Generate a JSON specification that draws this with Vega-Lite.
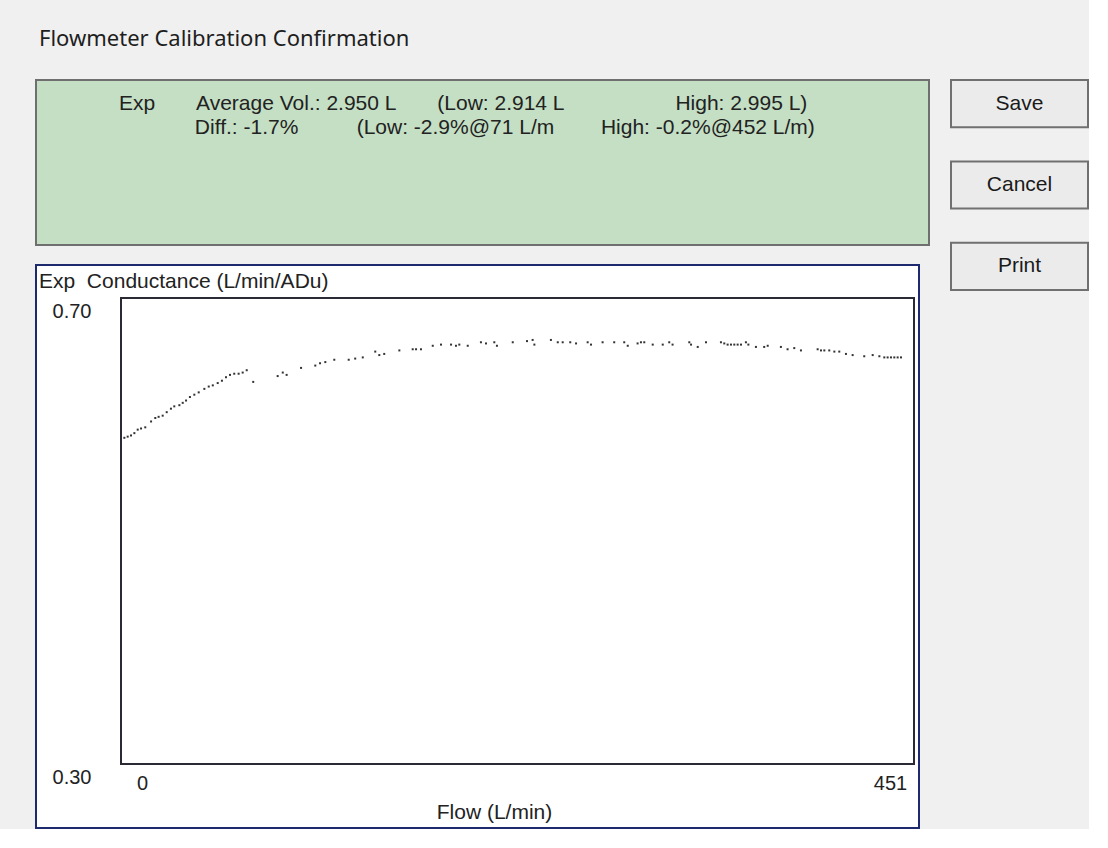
{
  "$schema": "https://vega.github.io/schema/vega-lite/v6.json",
  "background": "#f0f0f0",
  "padding": {"left": 35, "top": 28, "right": 0, "bottom": 0},
  "bounds": "full",
  "spacing": 20,
  "config": {"font": "Liberation Sans", "view": {"stroke": null}},
  "title": {"text": "Flowmeter Calibration Confirmation", "anchor": "start", "frame": "group", "dx": 3, "offset": 11, "fontSize": 22, "font": "Noto Sans", "fontWeight": "normal", "color": "#1e1e1e", "baseline": "alphabetic"},
  "hconcat": [
    {
      "bounds": "flush",
      "spacing": 20,
      "vconcat": [
        {
          "width": 893,
          "height": 165,
          "view": {"fill": "#c4dfc4", "stroke": "#6f6f6f", "strokeWidth": 2},
          "title": {
            "text": [
              "Exp\u00a0\u00a0\u00a0\u00a0\u00a0\u00a0\u00a0Average Vol.: 2.950 L\u00a0\u00a0\u00a0\u00a0\u00a0\u00a0\u00a0(Low: 2.914 L\u00a0\u00a0\u00a0\u00a0\u00a0\u00a0\u00a0\u00a0\u00a0\u00a0\u00a0\u00a0\u00a0\u00a0\u00a0\u00a0\u00a0\u00a0\u00a0High: 2.995 L)",
              "\u200b\u00a0\u00a0\u00a0\u00a0\u00a0\u00a0\u00a0\u00a0\u00a0\u00a0\u00a0\u00a0\u00a0Diff.: -1.7%\u00a0\u00a0\u00a0\u00a0\u00a0\u00a0\u00a0\u00a0\u00a0\u00a0(Low: -2.9%@71 L/m\u00a0\u00a0\u00a0\u00a0\u00a0\u00a0\u00a0\u00a0High: -0.2%@452 L/m)"
            ],
            "anchor": "start", "frame": "group", "orient": "top", "baseline": "top", "offset": -58, "dx": 83,
            "fontSize": 21, "lineHeight": 24, "fontWeight": "normal", "color": "#222222", "font": "Liberation Sans"
          },
          "data": {"values": []},
          "mark": "point"
        },
        {
          "width": 883,
          "height": 563,
          "view": {"fill": "#ffffff", "stroke": "#1e2a6e", "strokeWidth": 2},
          "title": {"text": "Exp\u00a0 Conductance (L/min/ADu)", "anchor": "start", "frame": "group", "orient": "top", "baseline": "top", "offset": -27, "dx": 3, "fontSize": 21, "fontWeight": "normal", "color": "#222222", "font": "Liberation Sans"},
          "layer": [
            {
              "data": {"values": [{"box": "plot"}]},
              "mark": {"type": "rect", "fill": "transparent", "stroke": "#2a2a35", "strokeWidth": 2},
              "encoding": {
                "x": {"datum": 0, "type": "quantitative", "scale": {"domain": [0, 451], "range": [85, 878], "nice": false, "zero": false},
                  "axis": {"orient": "bottom", "offset": -64, "values": [0, 451], "domain": false, "ticks": false, "grid": false, "labelFlush": false, "labelFontSize": 20, "labelColor": "#222222", "labelPadding": 9, "labelOffset": {"condition": {"test": "datum.value == 0", "value": 21}, "value": -24}, "title": "Flow (L/min)", "titleFontSize": 21, "titleFontWeight": "normal", "titleColor": "#222222", "titlePadding": 8, "titleX": 458}},
                "x2": {"datum": 451},
                "y": {"datum": 0.3, "type": "quantitative", "scale": {"domain": [0.3, 0.7], "range": [499, 33], "nice": false, "zero": false},
                  "axis": {"orient": "left", "offset": -85, "values": [0.3, 0.7], "format": ".2f", "domain": false, "ticks": false, "grid": false, "labelFlush": false, "labelFontSize": 20, "labelColor": "#222222", "labelPadding": 30, "labelOffset": 13, "title": null}},
                "y2": {"datum": 0.7}
              }
            },
            {
              "data": {"values": [
                {"flow": 1.9, "conductance": 0.580}, {"flow": 3.8, "conductance": 0.581}, {"flow": 5.7, "conductance": 0.582}, {"flow": 7.6, "conductance": 0.584}, {"flow": 9.5, "conductance": 0.587}, {"flow": 11.4, "conductance": 0.588}, {"flow": 13.8, "conductance": 0.589}, {"flow": 17.1, "conductance": 0.594}, {"flow": 19.5, "conductance": 0.597}, {"flow": 21.4, "conductance": 0.598},
                {"flow": 23.7, "conductance": 0.599}, {"flow": 26.0, "conductance": 0.602}, {"flow": 28.4, "conductance": 0.605}, {"flow": 30.3, "conductance": 0.607}, {"flow": 33.2, "conductance": 0.608}, {"flow": 35.1, "conductance": 0.610}, {"flow": 37.0, "conductance": 0.612}, {"flow": 39.2, "conductance": 0.615}, {"flow": 41.7, "conductance": 0.617}, {"flow": 44.2, "conductance": 0.619},
                {"flow": 47.4, "conductance": 0.622}, {"flow": 49.9, "conductance": 0.624}, {"flow": 52.2, "conductance": 0.625}, {"flow": 55.0, "conductance": 0.627}, {"flow": 57.4, "conductance": 0.629}, {"flow": 59.7, "conductance": 0.632}, {"flow": 62.0, "conductance": 0.634}, {"flow": 64.4, "conductance": 0.635}, {"flow": 66.9, "conductance": 0.635}, {"flow": 69.2, "conductance": 0.636},
                {"flow": 71.5, "conductance": 0.638}, {"flow": 75.2, "conductance": 0.628}, {"flow": 89.1, "conductance": 0.633}, {"flow": 92.0, "conductance": 0.636}, {"flow": 94.2, "conductance": 0.634}, {"flow": 102.4, "conductance": 0.640}, {"flow": 110.5, "conductance": 0.642}, {"flow": 113.2, "conductance": 0.644}, {"flow": 116.2, "conductance": 0.645}, {"flow": 121.3, "conductance": 0.647},
                {"flow": 129.5, "conductance": 0.647}, {"flow": 133.2, "conductance": 0.648}, {"flow": 137.5, "conductance": 0.649}, {"flow": 144.6, "conductance": 0.654}, {"flow": 146.9, "conductance": 0.651}, {"flow": 149.7, "conductance": 0.652}, {"flow": 158.3, "conductance": 0.655}, {"flow": 165.9, "conductance": 0.656}, {"flow": 167.8, "conductance": 0.656}, {"flow": 170.6, "conductance": 0.656},
                {"flow": 177.3, "conductance": 0.659}, {"flow": 182.0, "conductance": 0.660}, {"flow": 187.7, "conductance": 0.660}, {"flow": 190.5, "conductance": 0.659}, {"flow": 192.4, "conductance": 0.660}, {"flow": 197.2, "conductance": 0.659}, {"flow": 204.7, "conductance": 0.662}, {"flow": 207.6, "conductance": 0.661}, {"flow": 212.3, "conductance": 0.662}, {"flow": 213.8, "conductance": 0.659},
                {"flow": 222.8, "conductance": 0.662}, {"flow": 230.9, "conductance": 0.663}, {"flow": 234.1, "conductance": 0.664}, {"flow": 235.1, "conductance": 0.660}, {"flow": 244.5, "conductance": 0.664}, {"flow": 248.4, "conductance": 0.662}, {"flow": 251.2, "conductance": 0.662}, {"flow": 255.5, "conductance": 0.662}, {"flow": 258.8, "conductance": 0.661}, {"flow": 265.4, "conductance": 0.662},
                {"flow": 267.3, "conductance": 0.660}, {"flow": 273.9, "conductance": 0.662}, {"flow": 280.5, "conductance": 0.662}, {"flow": 286.2, "conductance": 0.662}, {"flow": 288.2, "conductance": 0.659}, {"flow": 293.8, "conductance": 0.661}, {"flow": 295.7, "conductance": 0.662}, {"flow": 297.6, "conductance": 0.662}, {"flow": 302.4, "conductance": 0.660}, {"flow": 308.1, "conductance": 0.660},
                {"flow": 311.8, "conductance": 0.662}, {"flow": 313.7, "conductance": 0.660}, {"flow": 323.2, "conductance": 0.662}, {"flow": 324.2, "conductance": 0.660}, {"flow": 328.0, "conductance": 0.658}, {"flow": 332.7, "conductance": 0.662}, {"flow": 341.2, "conductance": 0.662}, {"flow": 343.1, "conductance": 0.661}, {"flow": 345.0, "conductance": 0.660}, {"flow": 346.9, "conductance": 0.660},
                {"flow": 348.8, "conductance": 0.660}, {"flow": 350.7, "conductance": 0.660}, {"flow": 352.6, "conductance": 0.660}, {"flow": 355.4, "conductance": 0.662}, {"flow": 356.8, "conductance": 0.660}, {"flow": 361.1, "conductance": 0.658}, {"flow": 365.8, "conductance": 0.658}, {"flow": 367.8, "conductance": 0.659}, {"flow": 375.3, "conductance": 0.658}, {"flow": 379.1, "conductance": 0.656},
                {"flow": 382.9, "conductance": 0.657}, {"flow": 386.7, "conductance": 0.655}, {"flow": 396.2, "conductance": 0.656}, {"flow": 398.1, "conductance": 0.655}, {"flow": 400.0, "conductance": 0.655}, {"flow": 402.8, "conductance": 0.655}, {"flow": 405.7, "conductance": 0.654}, {"flow": 408.5, "conductance": 0.654}, {"flow": 412.3, "conductance": 0.652}, {"flow": 416.1, "conductance": 0.651},
                {"flow": 422.7, "conductance": 0.650}, {"flow": 427.5, "conductance": 0.651}, {"flow": 431.3, "conductance": 0.650}, {"flow": 434.1, "conductance": 0.649}, {"flow": 436.0, "conductance": 0.649}, {"flow": 437.9, "conductance": 0.649}, {"flow": 439.8, "conductance": 0.649}, {"flow": 441.7, "conductance": 0.649}, {"flow": 443.6, "conductance": 0.649}
              ]},
              "mark": {"type": "square", "size": 4, "color": "#333333", "opacity": 1},
              "encoding": {
                "x": {"field": "flow", "type": "quantitative", "scale": {"domain": [0, 451], "range": [85, 878], "nice": false, "zero": false},
                  "axis": {"orient": "bottom", "offset": -64, "values": [0, 451], "domain": false, "ticks": false, "grid": false, "labelFlush": false, "labelFontSize": 20, "labelColor": "#222222", "labelPadding": 9, "labelOffset": {"condition": {"test": "datum.value == 0", "value": 21}, "value": -24}, "title": "Flow (L/min)", "titleFontSize": 21, "titleFontWeight": "normal", "titleColor": "#222222", "titlePadding": 8, "titleX": 458}},
                "y": {"field": "conductance", "type": "quantitative", "scale": {"domain": [0.3, 0.7], "range": [499, 33], "nice": false, "zero": false},
                  "axis": {"orient": "left", "offset": -85, "values": [0.3, 0.7], "format": ".2f", "domain": false, "ticks": false, "grid": false, "labelFlush": false, "labelFontSize": 20, "labelColor": "#222222", "labelPadding": 30, "labelOffset": 13, "title": null}}
              }
            }
          ]
        }
      ]
    },
    {
      "width": 137,
      "height": 210,
      "view": {"stroke": null},
      "data": {"values": [{"button": "Save"}, {"button": "Cancel"}, {"button": "Print"}]},
      "encoding": {
        "y": {"field": "button", "type": "nominal", "sort": null, "scale": {"domain": ["Save", "Cancel", "Print"], "paddingInner": 0.42, "paddingOuter": 0}, "axis": null}
      },
      "layer": [
        {"mark": {"type": "rect", "fill": "#ebebeb", "stroke": "#707070", "strokeWidth": 2}},
        {"mark": {"type": "text", "fontSize": 21, "color": "#1a1a1a", "font": "Liberation Sans"}, "encoding": {"text": {"field": "button"}}}
      ]
    }
  ]
}
